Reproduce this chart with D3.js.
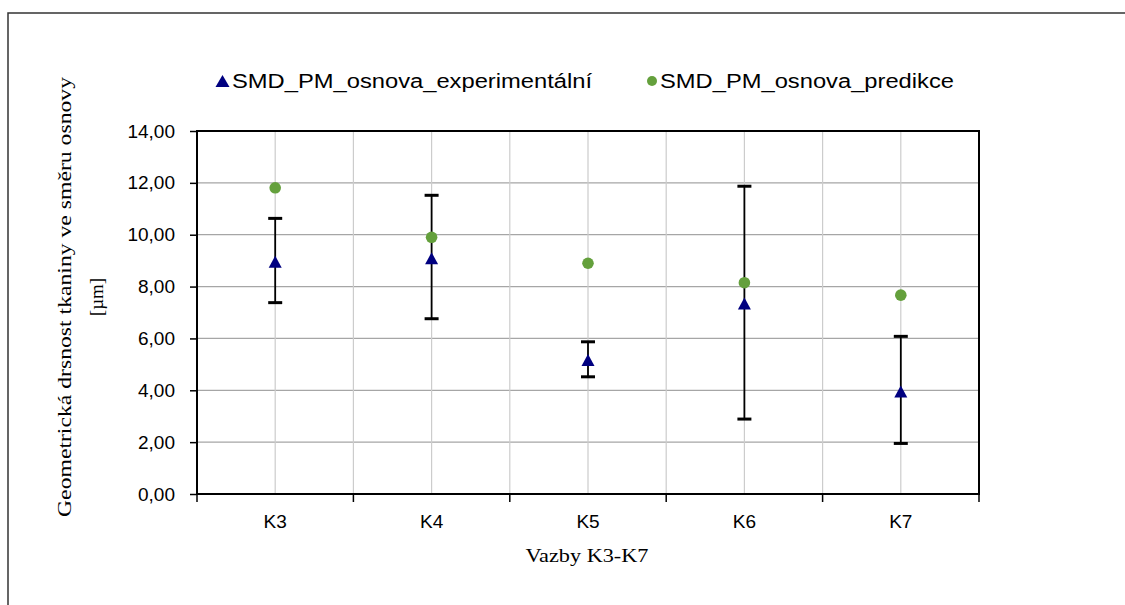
<!DOCTYPE html>
<html><head><meta charset="utf-8">
<script src="https://cdn.jsdelivr.net/npm/d3@7"></script>
<style>
html,body{margin:0;padding:0;background:#fff;}
svg{display:block;}
</style></head>
<body>
<svg id="c" width="1125" height="605"></svg>
<script>
const categories = ["K3","K4","K5","K6","K7"];
const experimental = [8.96, 9.09, 5.17, 7.35, 3.95];
const errUpper = [10.63, 11.52, 5.87, 11.87, 6.08];
const errLower = [7.38, 6.76, 4.52, 2.89, 1.95];
const prediction = [11.81, 9.90, 8.90, 8.15, 7.67];
const yTicks = [0,2,4,6,8,10,12,14];
const seriesNames = ["SMD_PM_osnova_experimentální","SMD_PM_osnova_predikce"];
const yTitle1 = "Geometrická  drsnost tkaniny ve směru osnovy";
const yTitle2 = "[µm]";
const xTitle = "Vazby K3-K7";

const svg = d3.select("#c");
const L = 197, R = 979, T = 131, B = 494;
const x = d3.scaleBand().domain(categories).range([L, R]);
const y = d3.scaleLinear().domain([0, 14]).range([B, T]);
const cx = c => x(c) + x.bandwidth()/2;
const sans = "'Liberation Sans', Arial, sans-serif";
const serif = "'Liberation Serif', 'Times New Roman', serif";

// outer frame
svg.append("path").attr("d","M8,605 L8,13 L1125,13").attr("fill","none").attr("stroke","#333").attr("stroke-width",1.5);

// horizontal grid
svg.append("g").selectAll("line").data(yTicks).join("line")
  .attr("x1",L).attr("x2",R).attr("y1",d=>y(d)).attr("y2",d=>y(d))
  .attr("stroke","#a6a6a6").attr("stroke-width",1.2);
// vertical grid (centers and boundaries)
const vlines = [];
categories.forEach(c=>{vlines.push(cx(c)); vlines.push(x(c)+x.bandwidth());});
svg.append("g").selectAll("line").data(vlines).join("line")
  .attr("x1",d=>d).attr("x2",d=>d).attr("y1",T).attr("y2",B)
  .attr("stroke","#cccccc").attr("stroke-width",1.2);

// plot border
svg.append("rect").attr("x",L).attr("y",T).attr("width",R-L).attr("height",B-T)
  .attr("fill","none").attr("stroke","#000").attr("stroke-width",2);

// y axis
const yAxis = d3.axisLeft(y).tickValues(yTicks).tickSize(7).tickPadding(15)
  .tickFormat(d => d3.format(".2f")(d).replace(".", ","));
const gy = svg.append("g").attr("transform",`translate(${L},0)`).call(yAxis);
gy.select(".domain").remove();
gy.selectAll("line").attr("stroke","#000").attr("stroke-width",1.5);
gy.selectAll("text").attr("font-family",sans).attr("font-size",19).attr("fill","#000");

// x axis ticks at boundaries
const bounds = [L].concat(categories.map(c=>x(c)+x.bandwidth()));
svg.append("g").selectAll("line").data(bounds).join("line")
  .attr("x1",d=>d).attr("x2",d=>d).attr("y1",B).attr("y2",B+8)
  .attr("stroke","#000").attr("stroke-width",1.5);
svg.append("g").selectAll("text").data(categories).join("text")
  .attr("x",d=>cx(d)).attr("y",B+34).attr("text-anchor","middle")
  .attr("font-family",sans).attr("font-size",19).attr("fill","#000").text(d=>d);

// error bars
const eb = svg.append("g");
categories.forEach((c,i)=>{
  const xx = cx(c);
  eb.append("line").attr("x1",xx).attr("x2",xx).attr("y1",y(errUpper[i])).attr("y2",y(errLower[i]))
    .attr("stroke","#000").attr("stroke-width",1.8);
  [errUpper[i], errLower[i]].forEach(v=>{
    eb.append("line").attr("x1",xx-7).attr("x2",xx+7).attr("y1",y(v)).attr("y2",y(v))
      .attr("stroke","#000").attr("stroke-width",3);
  });
});

const tri = (px,py,w,h) => `M${px-w/2},${py+h/2} L${px},${py-h/2} L${px+w/2},${py+h/2} Z`;
// prediction circles
svg.append("g").selectAll("circle").data(prediction).join("circle")
  .attr("cx",(d,i)=>cx(categories[i])).attr("cy",d=>y(d)).attr("r",5.8)
  .attr("fill","#64a03c");
// experimental triangles
svg.append("g").selectAll("path").data(experimental).join("path")
  .attr("d",(d,i)=>tri(cx(categories[i]), y(d), 13, 12))
  .attr("fill","#000080");

// legend
svg.append("path").attr("d",tri(222.5,81,14,12)).attr("fill","#000080");
svg.append("text").attr("x",232).attr("y",88).attr("font-family",sans).attr("font-size",20)
  .attr("textLength",360).attr("lengthAdjust","spacingAndGlyphs").text(seriesNames[0]);
svg.append("circle").attr("cx",652).attr("cy",81).attr("r",5).attr("fill","#64a03c");
svg.append("text").attr("x",660).attr("y",88).attr("font-family",sans).attr("font-size",20)
  .attr("textLength",294).attr("lengthAdjust","spacingAndGlyphs").text(seriesNames[1]);

// y title
svg.append("text").attr("transform","translate(71,297) rotate(-90)").attr("text-anchor","middle")
  .attr("font-family",serif).attr("font-size",19).attr("textLength",440).attr("lengthAdjust","spacingAndGlyphs")
  .text(yTitle1);
svg.append("text").attr("transform","translate(103,297) rotate(-90)").attr("text-anchor","middle")
  .attr("font-family",serif).attr("font-size",19).text(yTitle2);

// x title
svg.append("text").attr("x",587).attr("y",562).attr("text-anchor","middle")
  .attr("font-family",serif).attr("font-size",19).attr("textLength",123).attr("lengthAdjust","spacingAndGlyphs")
  .text(xTitle);
</script>
</body></html>
